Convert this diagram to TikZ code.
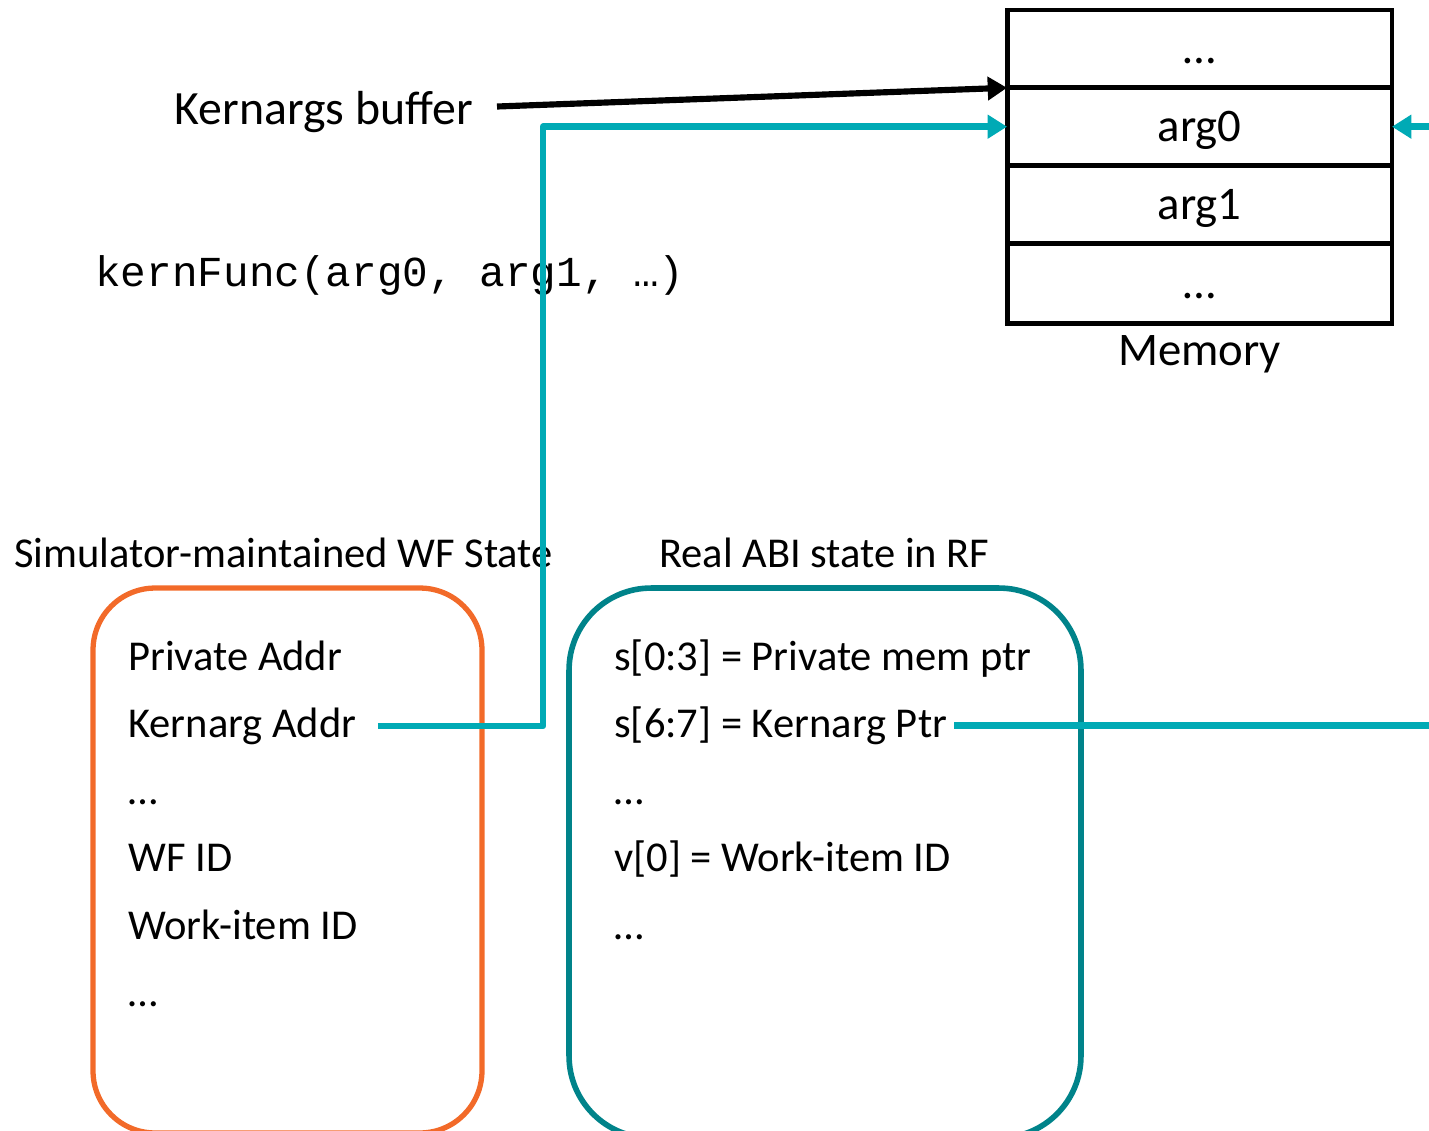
\documentclass[tikz,border=0pt]{standalone}
\usepackage{fontspec}
\setmainfont{Carlito}
\setmonofont{Liberation Mono}
\usetikzlibrary{arrows.meta,positioning}
\definecolor{argteal}{RGB}{0,170,181}
\definecolor{abiteal}{RGB}{0,131,138}
\definecolor{simorange}{RGB}{242,106,41}

\begin{document}
\begin{tikzpicture}[
  x=0.02cm, y=-0.02cm,
  cell/.style={rectangle, draw, line width=2.8pt, outer sep=0pt,
    inner sep=0pt, minimum width=7.7cm, minimum height=1.556cm,
    text height=22pt, text depth=5pt,
    font=\fontsize{26.6}{32}\selectfont},
  biglabel/.style={inner sep=0pt, font=\fontsize{26.6}{32}\selectfont},
  header/.style={inner sep=0pt, anchor=base west,
    font=\fontsize{24.2}{28}\selectfont},
  boxtext/.style={inner sep=0pt, anchor=base west,
    font=\fontsize{24.2}{28}\selectfont},
  codetext/.style={inner sep=0pt, anchor=base west,
    font=\ttfamily\fontsize{24.3}{28}\selectfont},
  statebox/.style={rectangle, line width=3pt},
  blackarrow/.style={-{Triangle[length=11pt,width=13pt]}, line width=3.5pt},
  tealarrow/.style={-{Triangle[length=11pt,width=13pt]}, line width=3.8pt,
    color=argteal, line join=round}
]
\clip (0,0) rectangle (1429,1131);

% State boxes
\node[statebox, draw=simorange, rounded corners=1.24cm,
  minimum width=7.78cm, minimum height=10.9cm] (simbox) at (287.5,860.5) {};
\node[statebox, draw=abiteal, line width=3.2pt, rounded corners=1.64cm,
  minimum width=10.24cm, minimum height=11cm] (abibox) at (825,863) {};

% Memory
\node[cell] (mtop) at (1199.5,48.9) {…};
\node[cell, below=0pt of mtop] (marg0) {arg0};
\node[cell, below=0pt of marg0] (marg1) {arg1};
\node[cell, below=0pt of marg1, minimum height=1.6cm] (mbot) {…};
\node[biglabel, anchor=base] (memlabel) at (1199.5,366) {Memory};

% Labels
\node[biglabel, anchor=base east, font=\fontsize{27.2}{32}\selectfont]
  (kbuf) at (473,125) {Kernargs buffer};
\node[codetext] (kfunc) at (95,287) {kernFunc(arg0, arg1, …)};
\node[header] (simhead) at (14,567) {Simulator-maintained WF State};
\node[header] (abihead) at (659,567) {Real ABI state in RF};

% Simulator-maintained state
\node[boxtext] (privaddr) at (128,670) {Private Addr};
\node[boxtext] (kaddr) at (128,737) {Kernarg Addr};
\node[boxtext] (simdots) at (128,804) {…};
\node[boxtext] (wfid) at (128,871) {WF ID};
\node[boxtext] (simwiid) at (128,939) {Work-item ID};
\node[boxtext] (simdotsb) at (128,1006) {…};

% Real ABI state
\node[boxtext] (privptr) at (614,670) {s[0:3] = Private mem ptr};
\node[boxtext] (kptr) at (614,737) {s[6:7] = Kernarg Ptr};
\node[boxtext] (abidots) at (614,804) {…};
\node[boxtext] (abiwiid) at (614,871) {v[0] = Work-item ID};
\node[boxtext] (abidotsb) at (614,939) {…};

% Arrows
\coordinate (bendup) at (543,0);
\coordinate (offpage) at (1480,0);
\draw[blackarrow] ([shift={(24,-6)}]kbuf.east) -- (marg0.north west);
\draw[tealarrow] ([xshift=12pt]kaddr.east) -| (bendup |- marg0.west)
  -- (marg0.west);
\draw[tealarrow] ([xshift=4pt]kptr.east) -| (offpage |- marg0.east)
  -- (marg0.east);
\end{tikzpicture}
\end{document}
